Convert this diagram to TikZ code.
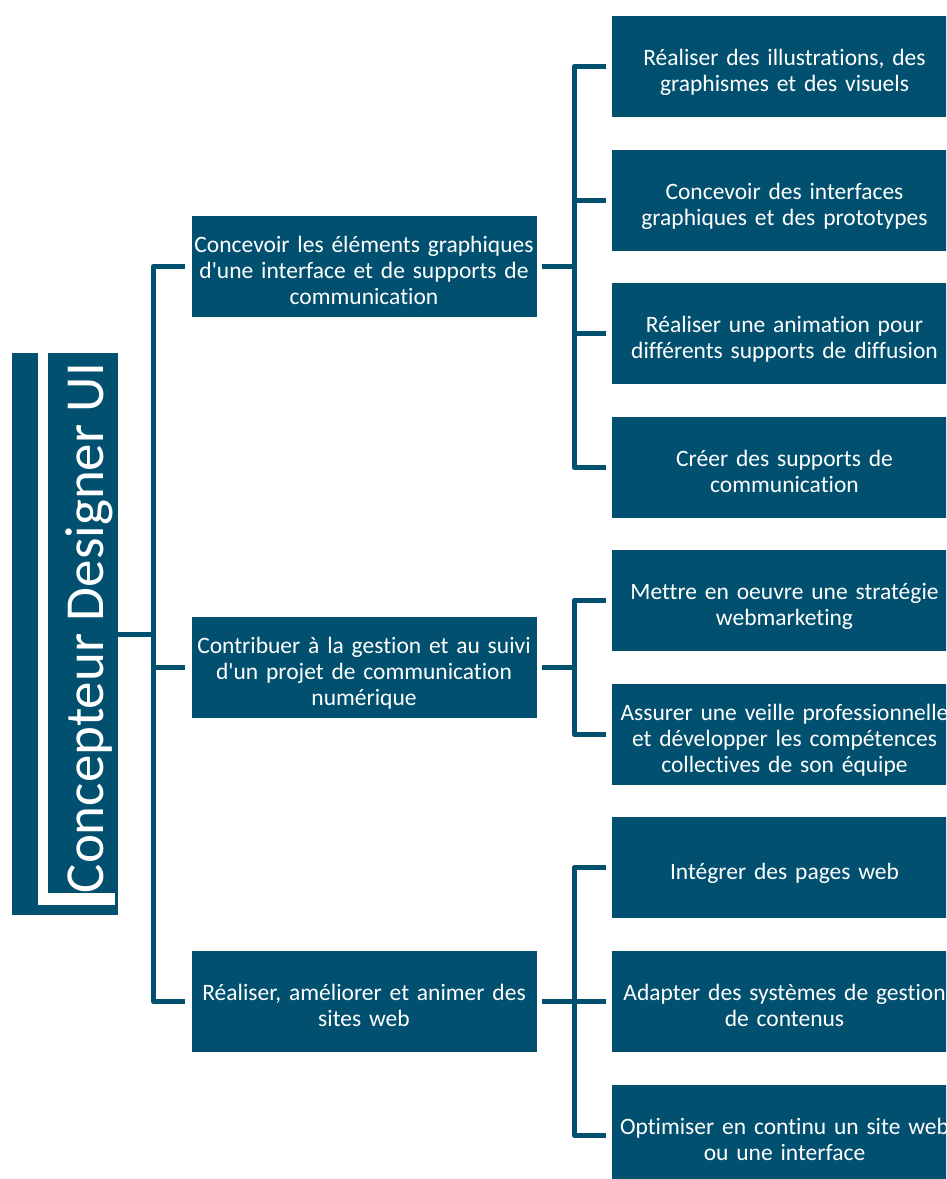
\documentclass[tikz,border=0pt]{standalone}
\usepackage{fontspec}
\setmainfont{Carlito}[Ligatures={NoCommon}]
\usetikzlibrary{calc}
\definecolor{ublue}{RGB}{2,80,111}
\newcommand\tline[1]{\rule[-0.8pt]{0pt}{26pt}\smash{#1}}
\newcommand\apos{\textquotesingle}
\begin{document}
\begin{tikzpicture}[x=1pt,y=-1pt,
  box/.style={fill=ublue, text=white, minimum width=345pt, minimum height=101pt,
    text width=342pt, align=center, inner sep=0pt,
    font=\fontsize{23.5}{26}\selectfont},
  conn/.style={draw=ublue, line width=5pt, line join=round}]
\useasboundingbox (0,0) rectangle (946,1179);
\clip (0,0) rectangle (946,1179);
% root
\node[fill=ublue, minimum width=106pt, minimum height=562pt, inner sep=0pt] (root) at (65,634) {};
\fill[white] (38,340) rectangle (48,905);
\fill[white] (38,893) rectangle (115,905);
\node[rotate=90, anchor=base west, text=white, inner sep=0pt,
  font=\fontsize{55}{60}\selectfont] (title) at (103,893.5) {Concepteur Designer UI};
% level 1
\node[box] (l1a) at (364,266.5) {\tline{Concevoir les éléments graphiques}\\\tline{d\apos une interface et de supports de}\\\tline{communication}};
\node[box] (l1b) at (364,667.5) {\tline{Contribuer à la gestion et au suivi}\\\tline{d\apos un projet de communication}\\\tline{numérique}};
\node[box] (l1c) at (364,1001.5) {\tline{Réaliser, améliorer et animer des}\\\tline{sites web}};
% level 2
\node[box] (l2a) at (784.5,66.5) {\tline{Réaliser des illustrations, des}\\\tline{graphismes et des visuels}};
\node[box] (l2b) at (784.5,200) {\tline{Concevoir des interfaces}\\\tline{graphiques et des prototypes}};
\node[box] (l2c) at (784.5,333.5) {\tline{Réaliser une animation pour}\\\tline{différents supports de diffusion}};
\node[box] (l2d) at (784.5,467.5) {\tline{Créer des supports de}\\\tline{communication}};
\node[box] (l2e) at (784.5,600.5) {\tline{Mettre en oeuvre une stratégie}\\\tline{webmarketing}};
\node[box] (l2f) at (784.5,734.5) {\tline{Assurer une veille professionnelle}\\\tline{et développer les compétences}\\\tline{collectives de son équipe}};
\node[box] (l2g) at (784.5,867.5) {\tline{Intégrer des pages web}};
\node[box] (l2h) at (784.5,1001.5) {\tline{Adapter des systèmes de gestion}\\\tline{de contenus}};
\node[box] (l2i) at (784.5,1135) {\tline{Optimiser en continu un site web}\\\tline{ou une interface}};
% connectors root -> level 1
\draw[conn] (root.east) -- ++(35,0) coordinate (t0);
\draw[conn] ([xshift=-6pt]l1a.west) -| (t0) |- ([xshift=-6pt]l1c.west);
\draw[conn] ([xshift=-6pt]l1b.west) -- (l1b.west -| t0);
% l1a -> children
\draw[conn] ([xshift=5pt]l1a.east) -- ++(32.5,0) coordinate (t1);
\draw[conn] ([xshift=-6pt]l2a.west) -| (t1) |- ([xshift=-6pt]l2d.west);
\draw[conn] ([xshift=-6pt]l2b.west) -- (l2b.west -| t1);
\draw[conn] ([xshift=-6pt]l2c.west) -- (l2c.west -| t1);
% l1b -> children
\draw[conn] ([xshift=5pt]l1b.east) -- ++(32.5,0) coordinate (t2);
\draw[conn] ([xshift=-6pt]l2e.west) -| (t2) |- ([xshift=-6pt]l2f.west);
% l1c -> children
\draw[conn] ([xshift=5pt]l1c.east) -- ++(32.5,0) coordinate (t3);
\draw[conn] ([xshift=-6pt]l2g.west) -| (t3) |- ([xshift=-6pt]l2i.west);
\draw[conn] ([xshift=-6pt]l2h.west) -- (l2h.west -| t3);
\end{tikzpicture}
\end{document}
